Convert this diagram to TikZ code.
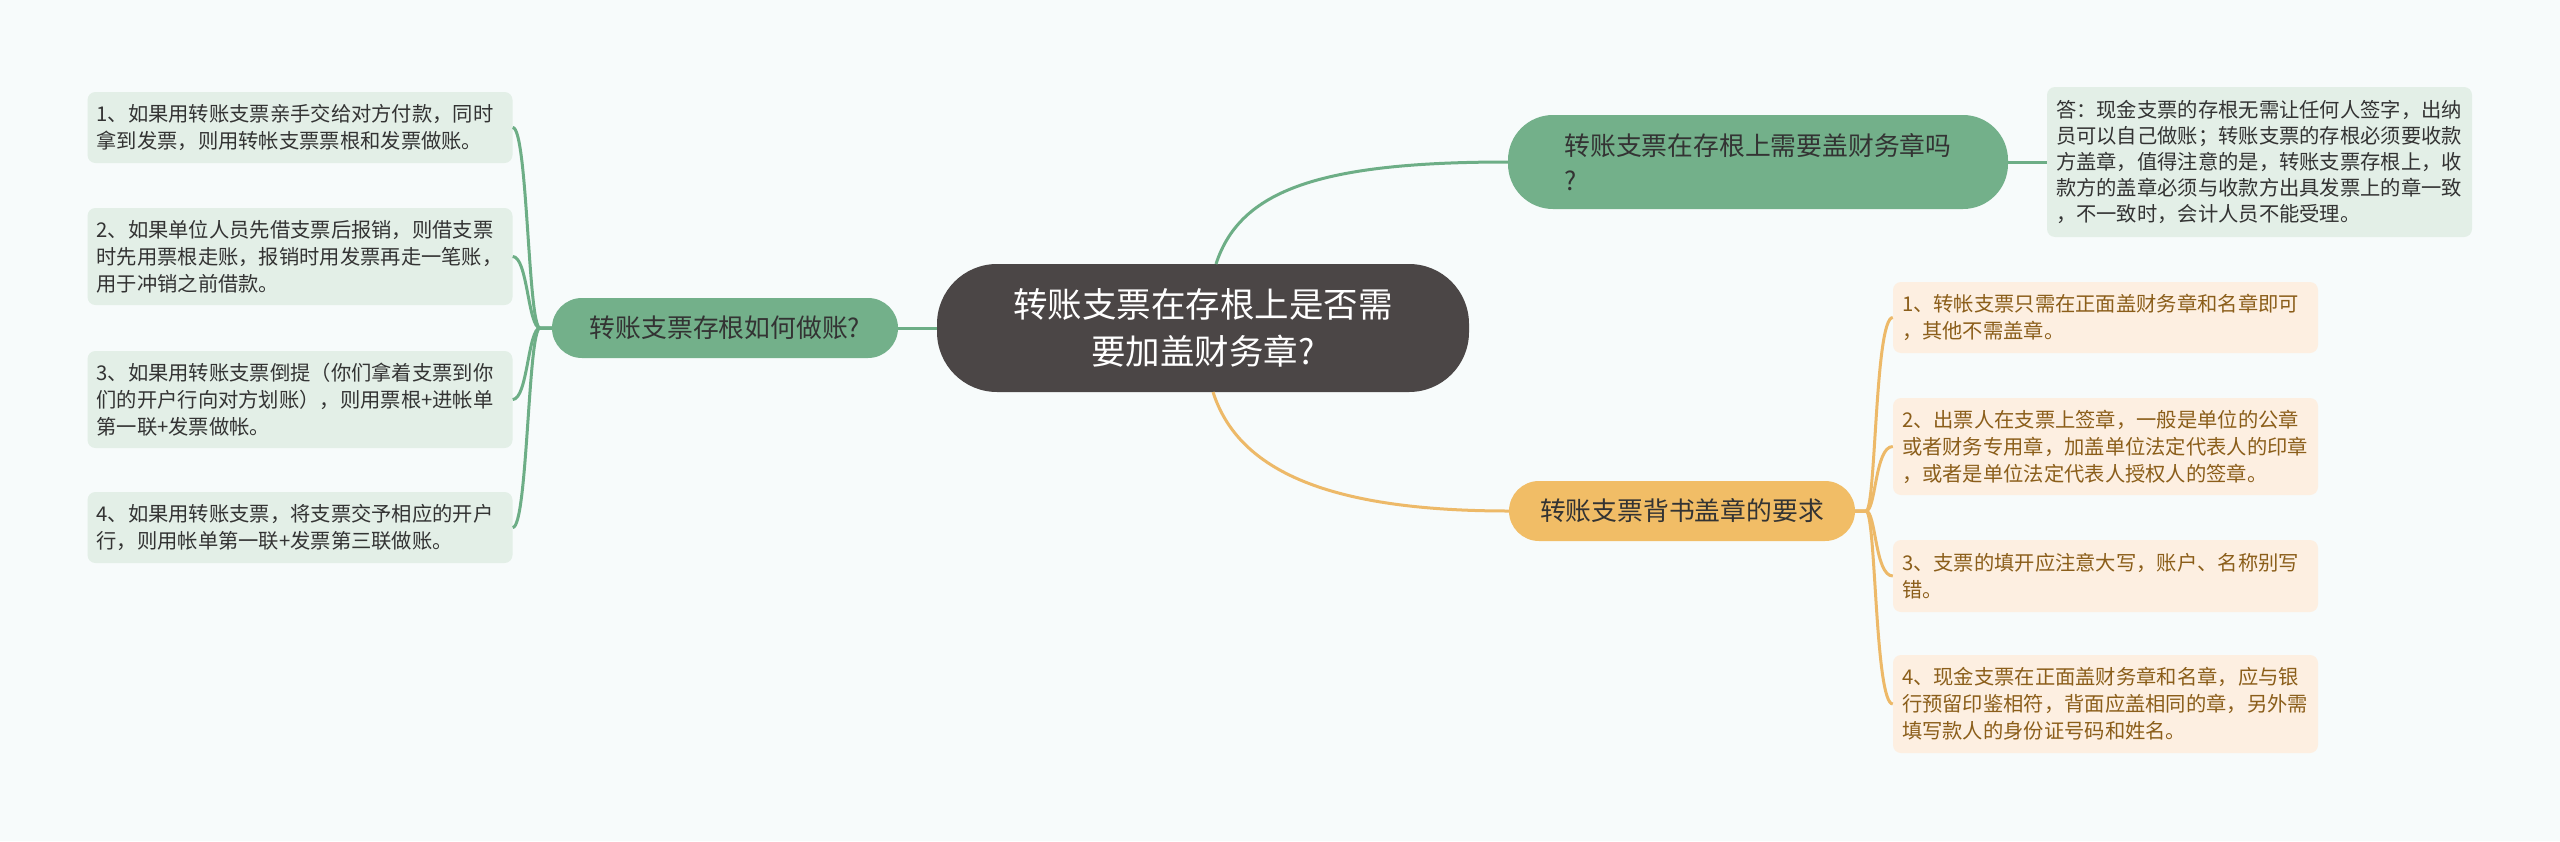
\documentclass[tikz,border=0pt]{standalone}
\usepackage{fontspec}
\setmainfont{Noto Sans CJK SC}
\usetikzlibrary{calc}
\definecolor{bg}{HTML}{F7FBFB}
\definecolor{cdark}{HTML}{4B4646}
\definecolor{gfill}{HTML}{73B08A}
\definecolor{gline}{HTML}{6DAE86}
\definecolor{gbox}{HTML}{E3EFE7}
\definecolor{ofill}{HTML}{F1BD66}
\definecolor{oline}{HTML}{EDB968}
\definecolor{obox}{HTML}{FDEFE1}
\definecolor{otext}{HTML}{8B5E1A}
\definecolor{dtext}{HTML}{333333}
\begin{document}
\begin{tikzpicture}[x=1pt,y=-1pt,
  centernode/.style={fill=cdark, text=white, rounded corners=60pt, minimum width=532pt, minimum height=128pt, align=center, inner sep=0pt, font=\fontsize{34.5}{47}\selectfont},
  gbranch/.style={fill=gfill, text=dtext, inner sep=0pt, font=\fontsize{25.8}{35}\selectfont},
  obranch/.style={fill=ofill, text=dtext, inner sep=0pt, font=\fontsize{25.8}{35}\selectfont},
  gnote/.style={fill=gbox, text=dtext, rounded corners=8pt, inner xsep=9pt, inner ysep=0pt, text width=407pt, align=left, font=\fontsize{20.3}{27}\selectfont},
  onote/.style={fill=obox, text=otext, rounded corners=8pt, inner xsep=9pt, inner ysep=0pt, text width=407pt, align=left, font=\fontsize{20.3}{27}\selectfont},
  gconn/.style={draw=gline, line width=3pt},
  oconn/.style={draw=oline, line width=3pt}
]
\fill[bg] (0,0) rectangle (2560,841);
\useasboundingbox (0,0) rectangle (2560,841);

% central topic
\node[centernode] (c) at (1203,328) {转账支票在存根上是否需\\要加盖财务章?};

% main branches
\node[gbranch, rounded corners=30pt, minimum width=346pt, minimum height=60pt] (lb) at (725,328) {转账支票存根如何做账?};
\node[gbranch, rounded corners=45pt, minimum width=500pt, minimum height=94pt, align=left] (tr) at (1758,162) {转账支票在存根上需要盖财务章吗\\?};
\node[obranch, rounded corners=30pt, minimum width=346pt, minimum height=60pt] (br) at (1682,511) {转账支票背书盖章的要求};

% answer box
\node[gnote, minimum height=150pt, font=\fontsize{20.3}{26}\selectfont] (ans) at (2259.5,162) {答：现金支票的存根无需让任何人签字，出纳\\员可以自己做账；转账支票的存根必须要收款\\方盖章，值得注意的是，转账支票存根上，收\\款方的盖章必须与收款方出具发票上的章一致\\，不一致时，会计人员不能受理。};

% left notes
\node[gnote, minimum height=71pt] (l1) at (300,127.5) {1、如果用转账支票亲手交给对方付款，同时\\拿到发票，则用转帐支票票根和发票做账。};
\node[gnote, minimum height=97pt] (l2) at (300,256.5) {2、如果单位人员先借支票后报销，则借支票\\时先用票根走账，报销时用发票再走一笔账，\\用于冲销之前借款。};
\node[gnote, minimum height=97pt] (l3) at (300,399.5) {3、如果用转账支票倒提（你们拿着支票到你\\们的开户行向对方划账），则用票根+进帐单\\第一联+发票做帐。};
\node[gnote, minimum height=71pt] (l4) at (300,527.5) {4、如果用转账支票，将支票交予相应的开户\\行，则用帐单第一联+发票第三联做账。};

% right notes
\node[onote, minimum height=71pt] (r1) at (2105.5,317.5) {1、转帐支票只需在正面盖财务章和名章即可\\，其他不需盖章。};
\node[onote, minimum height=97pt] (r2) at (2105.5,446.5) {2、出票人在支票上签章，一般是单位的公章\\或者财务专用章，加盖单位法定代表人的印章\\，或者是单位法定代表人授权人的签章。};
\node[onote, minimum height=72pt] (r3) at (2105.5,576) {3、支票的填开应注意大写，账户、名称别写\\错。};
\node[onote, minimum height=98pt] (r4) at (2105.5,704) {4、现金支票在正面盖财务章和名章，应与银\\行预留印鉴相符，背面应盖相同的章，另外需\\填写款人的身份证号码和姓名。};

% connectors
\coordinate (ct) at (1216,264);
\coordinate (cb) at (1213,392);
\coordinate (lj) at (540,328);
\coordinate (rj) at (1866,511);

\draw[gconn] (c.west) -- (lb.east);
\draw[gconn] (ct) .. controls +(24,-74) and +(-188,0) .. (tr.west);
\draw[oconn] (cb) .. controls +(24,75) and +(-188,0) .. (br.west);
\draw[gconn] (tr.east) -- (ans.west);

\foreach \n in {l1,l2,l3,l4}
  \draw[gconn] (lb.west) -- (lj) .. controls +(-12,0) and +(15,0) .. (\n.east);
\foreach \n in {r1,r2,r3,r4}
  \draw[oconn] (br.east) -- (rj) .. controls +(10,0) and +(-18,0) .. (\n.west);
\end{tikzpicture}
\end{document}
